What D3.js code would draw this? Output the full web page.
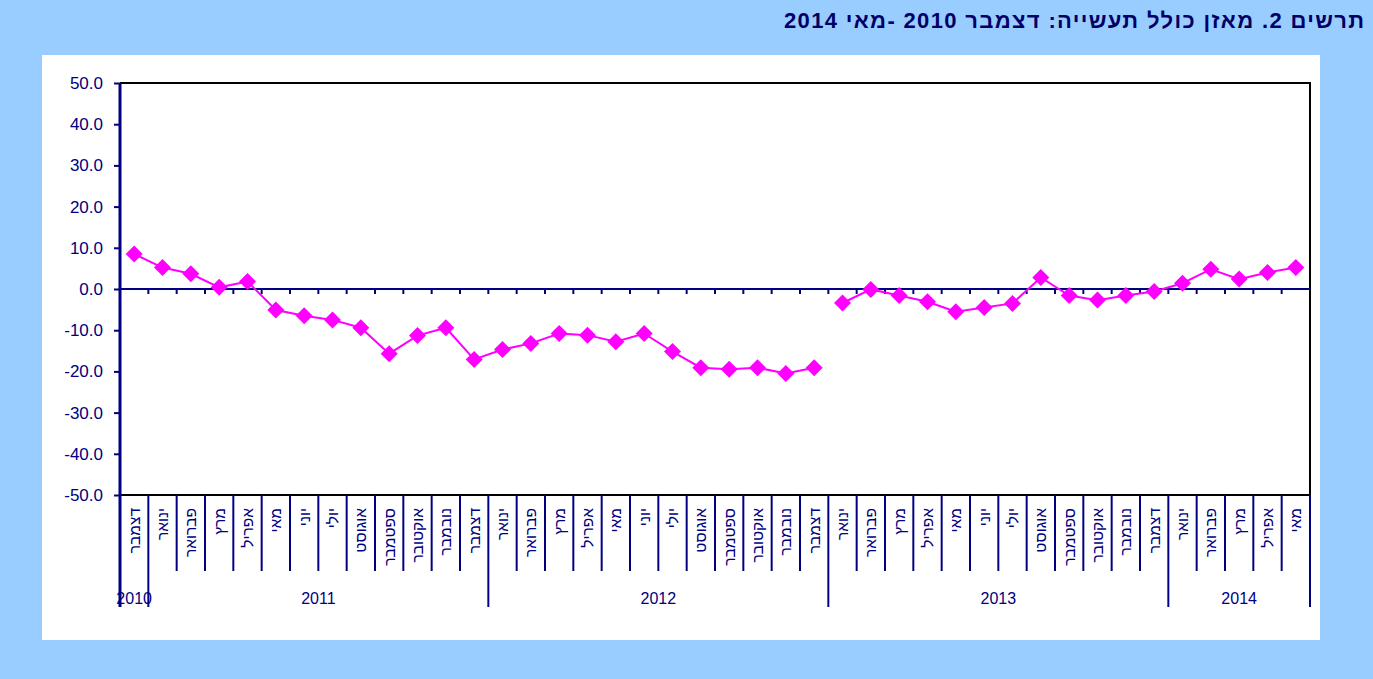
<!DOCTYPE html>
<html>
<head>
<meta charset="utf-8">
<script src="https://cdn.jsdelivr.net/npm/d3@7"></script>
<style>
  body { margin: 0; background: #99ccff; }
  svg { display: block; font-family: Arial, 'Liberation Sans', sans-serif; }
</style>
</head>
<body>
<svg id="chart" width="1373" height="679"></svg>
<script>
// months (category labels), year of each month, and the balance values
var months = ['דצמבר',
  'ינואר', 'פברואר', 'מרץ', 'אפריל', 'מאי', 'יוני', 'יולי', 'אוגוסט', 'ספטמבר', 'אוקטובר', 'נובמבר', 'דצמבר',
  'ינואר', 'פברואר', 'מרץ', 'אפריל', 'מאי', 'יוני', 'יולי', 'אוגוסט', 'ספטמבר', 'אוקטובר', 'נובמבר', 'דצמבר',
  'ינואר', 'פברואר', 'מרץ', 'אפריל', 'מאי', 'יוני', 'יולי', 'אוגוסט', 'ספטמבר', 'אוקטובר', 'נובמבר', 'דצמבר',
  'ינואר', 'פברואר', 'מרץ', 'אפריל', 'מאי'];
var years = ['2010', '2011', '2012', '2013', '2014'];
var yearCounts = [1, 12, 12, 12, 5];
var values = [8.5,
  5.2, 3.7, 0.4, 1.8, -5.1, -6.5, -7.5, -9.4, -15.7, -11.3, -9.4, -17.1,
  -14.7, -13.2, -10.8, -11.2, -12.8, -10.8, -15.2, -19.1, -19.5, -19.1, -20.5, -19.1,
  -3.4, -0.1, -1.6, -3.1, -5.5, -4.5, -3.5, 2.8, -1.6, -2.7, -1.6, -0.6,
  1.4, 4.8, 2.4, 4.0, 5.2];
// the line is broken between these two points in the original
var breakAfter = 24;
var yTicks = [-50, -40, -30, -20, -10, 0, 10, 20, 30, 40, 50];

var navy = '#000080';
var magenta = '#ff00ff';
var plot = { left: 120, right: 1310, top: 83, bottom: 495 };

var svg = d3.select('#chart');

// white panel
svg.append('rect')
  .attr('x', 42).attr('y', 55)
  .attr('width', 1278).attr('height', 585)
  .attr('fill', '#fff');

// title (rtl, so 'start' is the right edge)
svg.append('text')
  .attr('x', 1364).attr('y', 28)
  .attr('text-anchor', 'start')
  .attr('direction', 'rtl')
  .attr('font-size', 22)
  .attr('font-weight', 'bold')
  .attr('fill', '#000066')
  .attr('textLength', 580)
  .attr('lengthAdjust', 'spacing')
  .text('תרשים 2. מאזן כולל תעשייה: דצמבר 2010 -מאי 2014');

var idx = d3.range(values.length);
var x = d3.scaleBand().domain(idx).range([plot.left, plot.right]).padding(0);
var y = d3.scaleLinear().domain([-50, 50]).range([plot.bottom, plot.top]);
var bw = x.bandwidth();

// frame (top, right, bottom)
svg.append('path')
  .attr('d', 'M' + plot.left + ',' + plot.top + 'H' + plot.right + 'V' + plot.bottom + 'H' + plot.left)
  .attr('fill', 'none')
  .attr('stroke', '#000')
  .attr('stroke-width', 2);

// y axis
var yAxis = svg.append('g')
  .attr('transform', 'translate(' + plot.left + ',0)')
  .call(d3.axisLeft(y).tickValues(yTicks).tickSize(6).tickPadding(11)
    .tickFormat(function (d) { return d.toFixed(1); }));
yAxis.select('.domain').remove();
yAxis.selectAll('line').attr('stroke', navy).attr('stroke-width', 2);
yAxis.selectAll('text')
  .attr('fill', navy)
  .attr('font-size', 17)
  .attr('font-family', 'Arial, Liberation Sans, sans-serif');

// zero line with small ticks on category boundaries
svg.append('line')
  .attr('x1', plot.left).attr('x2', plot.right)
  .attr('y1', y(0)).attr('y2', y(0))
  .attr('stroke', navy).attr('stroke-width', 2);

var bounds = d3.range(values.length + 1);
svg.append('g').selectAll('line')
  .data(bounds.slice(1, -1))
  .join('line')
  .attr('x1', function (k) { return plot.left + k * bw; })
  .attr('x2', function (k) { return plot.left + k * bw; })
  .attr('y1', y(0)).attr('y2', y(0) + 5)
  .attr('stroke', navy).attr('stroke-width', 2);

// category separators below the plot; year boundaries go longer
var yearStarts = [0];
yearCounts.forEach(function (c, i) { yearStarts.push(yearStarts[i] + c); });

svg.append('g').selectAll('line')
  .data(bounds)
  .join('line')
  .attr('x1', function (k) { return plot.left + k * bw; })
  .attr('x2', function (k) { return plot.left + k * bw; })
  .attr('y1', plot.bottom)
  .attr('y2', function (k) { return yearStarts.indexOf(k) >= 0 ? 607 : 571; })
  .attr('stroke', navy).attr('stroke-width', 2);

// left axis line
svg.append('line')
  .attr('x1', plot.left).attr('x2', plot.left)
  .attr('y1', plot.top).attr('y2', 607)
  .attr('stroke', navy).attr('stroke-width', 3);

// month labels, rotated
svg.append('g').selectAll('text')
  .data(months)
  .join('text')
  .attr('transform', function (d, i) {
    return 'translate(' + (x(i) + bw / 2) + ',508) rotate(-90)';
  })
  .attr('text-anchor', 'end')
  .attr('dominant-baseline', 'central')
  .attr('font-size', 15.5)
  .attr('fill', navy)
  .text(function (d) { return d; });

// year labels
svg.append('g').selectAll('text')
  .data(years)
  .join('text')
  .attr('x', function (d, i) {
    return plot.left + (yearStarts[i] + yearCounts[i] / 2) * bw;
  })
  .attr('y', 604)
  .attr('text-anchor', 'middle')
  .attr('font-size', 16)
  .attr('fill', navy)
  .text(function (d) { return d; });

// line, split in two
var line = d3.line()
  .x(function (i) { return x(i) + bw / 2; })
  .y(function (i) { return y(values[i]); });

[idx.slice(0, breakAfter + 1), idx.slice(breakAfter + 1)].forEach(function (seg) {
  svg.append('path')
    .attr('d', line(seg))
    .attr('fill', 'none')
    .attr('stroke', magenta)
    .attr('stroke-width', 2);
});

// diamond markers
svg.append('g').selectAll('path')
  .data(idx)
  .join('path')
  .attr('transform', function (i) {
    return 'translate(' + (x(i) + bw / 2) + ',' + y(values[i]) + ')';
  })
  .attr('d', 'M0,-8.5L8.5,0L0,8.5L-8.5,0Z')
  .attr('fill', magenta);
</script>
</body>
</html>
